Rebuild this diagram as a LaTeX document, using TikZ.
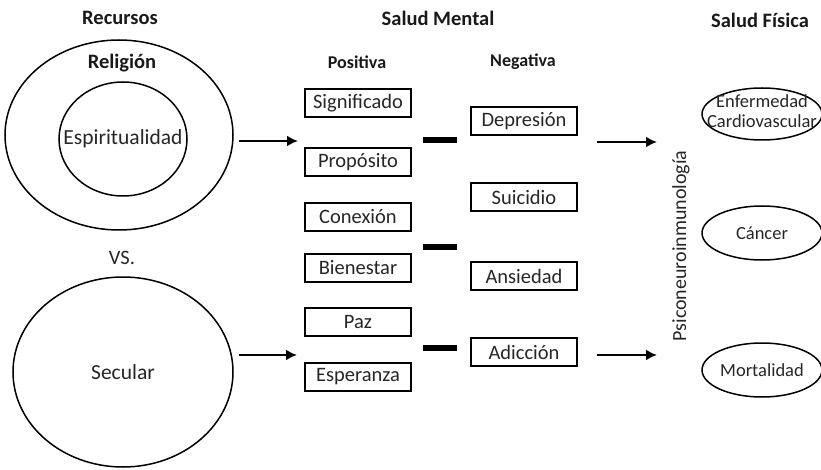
\documentclass[tikz,border=0pt]{standalone}
\usepackage{fontspec}
\setmainfont{Carlito}
\usetikzlibrary{shapes, arrows, arrows.meta, positioning}
\tikzstyle{box}  = [draw, line width=1.8pt, minimum width=106pt, minimum height=28pt, inner sep=0pt, text=black!85]
\tikzstyle{ell}  = [draw, ellipse, line width=1.5pt, inner sep=0pt, label={[text=black!85]center:#1}]
\tikzstyle{head} = [font=\fontsize{20.5}{20.5}\selectfont\bfseries, text=black!90]
\tikzstyle{sub}  = [font=\fontsize{18}{18}\selectfont\bfseries, text=black!90]
\tikzstyle{txt}  = [text=black!85]
\tikzstyle{bar}  = [fill=black, minimum width=34pt, minimum height=6pt, inner sep=0pt]
\tikzstyle{arr}  = [draw, line width=2.4pt, -{Latex[length=11pt, width=11pt]}]
\newcommand{\bigtxt}{\fontsize{21.5}{21.5}\selectfont}
\newcommand{\smalltxt}{\fontsize{18.5}{18.5}\selectfont}

\begin{document}
\begin{tikzpicture}[x=1pt, y=-1pt, font=\fontsize{20.5}{20.5}\selectfont]

\useasboundingbox (0,0) rectangle (821,470);

% headers
\node [head]           at ( 120,  18) (hrec) {Recursos};
\node [head]           at ( 438,  18) (hmen) {Salud Mental};
\node [head]           at ( 760,  20) (hfis) {Salud Física};
\node [sub]            at ( 357,  62) (hpos) {Positiva};
\node [sub]            at ( 523,  62) (hneg) {Negativa};

% resources
\node [ell=, minimum width=228pt, minimum height=190pt] at (119, 135) (rel) {};
\node [head]                                            at (122,  63) (lrel) {Religión};
\node [ell={\bigtxt Espiritualidad}, minimum width=128pt, minimum height=114pt] at (123, 139) (esp) {};
\node [txt]                                             at (122, 258) (vs)  {VS.};
\node [ell={\bigtxt Secular}, minimum width=220pt, minimum height=190pt] at (123, 372) (sec) {};

% positive
\node [box] at (358, 103) (sig) {Significado};
\node [box] at (358, 162) (pro) {Propósito};
\node [box] at (358, 217) (con) {Conexión};
\node [box] at (358, 268) (bie) {Bienestar};
\node [box] at (358, 322) (paz) {Paz};
\node [box] at (358, 377) (esa) {Esperanza};

% negative
\node [box] at (524, 121) (dep) {Depresión};
\node [box] at (524, 197) (sui) {Suicidio};
\node [box] at (524, 276) (ans) {Ansiedad};
\node [box] at (524, 352) (adi) {Adicción};

% minus signs
\node [bar] at (440, 140) (m1) {};
\node [bar] at (440, 247) (m2) {};
\node [bar] at (440, 348) (m3) {};

% physical health
\node [txt, rotate=90, font=\fontsize{20}{20}\selectfont] at (681, 246) (pni) {Psiconeuroinmunología};
\node [ell={\smalltxt\begin{tabular}{@{}c@{}}Enfermedad\\[1pt]Cardiovascular\end{tabular}}, minimum width=120pt, minimum height=52pt] at (762, 114) (car) {};
\node [ell={\smalltxt Cáncer},     minimum width=120pt, minimum height=54pt] at (762, 233) (can) {};
\node [ell={\smalltxt Mortalidad}, minimum width=120pt, minimum height=54pt] at (762, 370) (mor) {};

% arrow ends
\coordinate (a1)  at (298, 141);
\coordinate (a2)  at (297, 355);
\coordinate (b1s) at (597, 142);
\coordinate (b1e) at (657, 142);
\coordinate (b2s) at (597, 355);
\coordinate (b2e) at (657, 355);

% edges
\draw [arr, shorten <=5pt] (rel.east |- a1) -- (a1);
\draw [arr, shorten <=5pt] (sec.east |- a2) -- (a2);
\draw [arr]                (b1s)            -- (b1e);
\draw [arr]                (b2s)            -- (b2e);

\end{tikzpicture}
\end{document}
